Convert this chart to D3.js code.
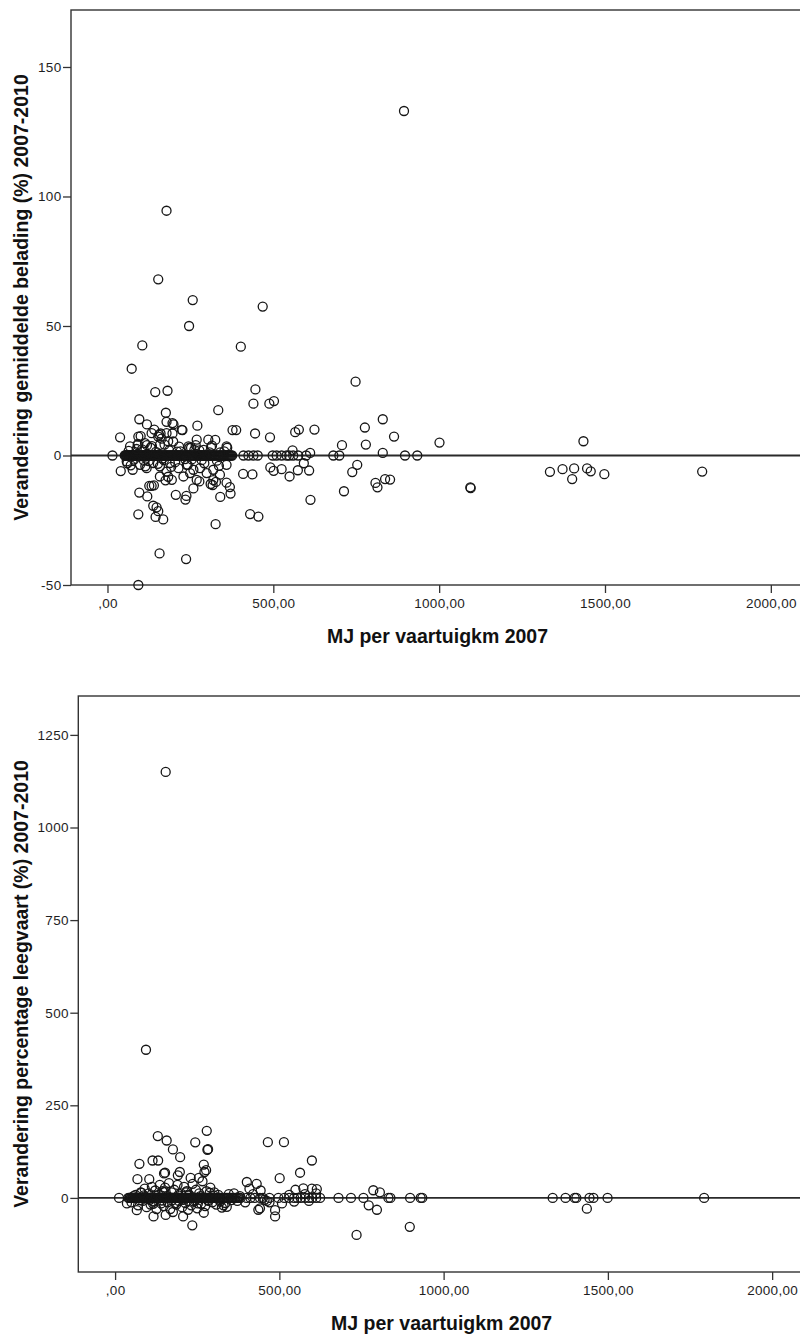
<!DOCTYPE html>
<html>
<head>
<meta charset="utf-8">
<script src="https://cdn.jsdelivr.net/npm/d3@7"></script>
<style>
  html, body { margin: 0; padding: 0; background: #fff; }
  svg { display: block; }
  .tick text { font-family: Arial, "Liberation Sans", sans-serif; font-size: 13.5px; letter-spacing: 0.3px; fill: #1e1e1e; }
  .tick line { stroke: #333; stroke-width: 1.3px; }
  .axis-title { font-family: Arial, "Liberation Sans", sans-serif; font-weight: bold; font-size: 19.5px; fill: #111; }
</style>
</head>
<body>
<svg id="chart" width="800" height="1335"></svg>
<script>
// ---- Shared x-axis ticks (MJ per vaartuigkm 2007) ----
const xTickValues = [0, 500, 1000, 1500, 2000];
const xTickLabels = [",00", "500,00", "1000,00", "1500,00", "2000,00"];

// ---- Panel 1: change in average load (%) 2007-2010 ----
const beladingYTicks = [-50, 0, 50, 100, 150];
// vessels with no change
const beladingZeroMJ = [15, 52, 54, 56, 58, 60, 62, 64, 66, 68, 70, 72, 74, 76, 78, 80, 82, 84, 86, 88, 90, 92, 94,
  96, 98, 100, 102, 104, 106, 108, 110, 112, 114, 116, 118, 120, 122, 124, 126, 128, 130, 132, 134, 136, 138,
  140, 142, 144, 146, 148, 150, 152, 154, 156, 158, 160, 162, 165, 168, 170, 172, 175, 178, 180, 182, 185, 188,
  190, 192, 195, 198, 200, 202, 205, 208, 210, 212, 215, 218, 220, 223, 226, 229, 232, 235, 238, 241, 244, 247,
  250, 253, 256, 259, 262, 266, 270, 272, 274, 276, 278, 280, 282, 284, 286, 288, 290, 293, 295, 298, 300, 303,
  306, 309, 312, 315, 318, 322, 326, 330, 334, 337, 340, 343, 346, 349, 352, 355, 358, 361, 364, 367, 370, 373,
  376, 410, 425, 440, 453, 498, 510, 525, 540, 548, 560, 575, 599, 681, 699, 897, 934];
// vessels with a change in load
const beladingMJ = [894, 178, 153, 257, 468, 246, 105, 402, 73, 748, 144, 181, 446, 440, 488, 502, 334, 176, 96, 830,
  178, 196, 199, 119, 271, 776, 141, 226, 377, 388, 566, 577, 624, 864, 445, 490, 38, 93, 100, 133,
  156, 160, 178, 196, 224, 325, 269, 304, 707, 779, 830, 558, 611, 361, 247, 68, 119, 91, 113, 153,
  158, 198, 244, 359, 1001, 1435, 183, 163, 315, 277, 252, 340,
  40, 60, 76, 96, 120, 138, 126, 133, 140, 93, 153, 145, 168, 157, 237, 93, 326, 206, 235, 238,
  175, 183, 259, 277, 311, 319, 340, 359, 369, 371, 409, 437, 455, 430, 491, 501, 525, 549, 574, 608,
  612, 592, 713, 738, 753, 808, 814, 852, 837, 1094, 1095, 1334, 1372, 1407, 1401, 1446, 1457, 1498, 1793,
  58, 98, 118, 138, 158, 178, 194, 214, 229, 249, 269, 279, 299, 319, 339, 359, 158, 188, 239, 259,
  148, 327, 317, 88, 110, 130, 170, 210, 254, 290,
  64, 80, 104, 124, 146, 166, 186, 204, 220, 234, 262, 284, 308, 330, 352, 70, 92, 114, 134, 152,
  172, 192, 216, 242, 266, 292, 312, 336];
const beladingPct = [133, 94.5, 68, 60, 57.5, 50, 42.5, 42, 33.5, 28.5, 24.5, 25, 25.5, 20, 20, 21, 17.5, 16.5, 14, 14,
  13, 12.5, 12, 12, 11.5, 10.8, 10, 9.8, 9.8, 9.8, 9, 10, 10, 7.3, 8.5, 7, 7, 7.3, 7.5, 8.6,
  8, 8.5, 8.6, 8.5, 9.9, 6, 6.1, 6.1, 4, 4.2, 1, 2, 1, 3, 3, 3.5, 4, 4, 4.8, 7.3,
  4.1, 5.4, 3.5, 3.5, 5, 5.5, 5.5, 6.5, 3.8, 2, 3, 1.2,
  -6, -3, -5.5, -14.3, -15.8, -19.4, -11.7, -11.7, -11.5, -22.7, -21.5, -23.7, -24.7, -37.8, -40, -50, -26.5, -15.2, -17, -15.6,
  -9.6, -8.2, -12.7, -10, -11, -9.5, -16, -10.5, -12.2, -14.7, -7.1, -7.3, -23.6, -22.6, -4.6, -5.9, -5.3, -8.1, -5.7, -5.8,
  -17.1, -3, -13.8, -6.4, -3.6, -10.6, -12.3, -9.3, -9.1, -12.3, -12.6, -6.3, -5.3, -5, -9.1, -5, -6.1, -7.2, -6.2,
  -2.3, -3.6, -4.9, -2.9, -8.1, -6.2, -9.4, -4.9, -8.1, -6.8, -9.4, -4.9, -6.8, -5.5, -7.4, -3.6, -4.2, -2.9, -3.6, -5.5,
  -20, -10.2, -11.4, 2.5, -2, 3, -1.8, 1.5, -1.5, 2.2,
  1.8, -1.6, 2.4, -2.2, 1.4, -1.2, 2, -2.6, 1.6, -1.4, 2.2, -1.8, 1.2, -2, 1.6,
  -3.8, 4.5, -4.2, 3.6, -3.2, 4.2, -4.4, 3.4, -3.6, 4, -3, 3.2, -4];

// ---- Panel 2: change in empty-sailing percentage (%) 2007-2010 ----
const leegvaartYTicks = [0, 250, 500, 750, 1000, 1250];
const leegvaartZeroMJ = [12, 40, 43, 45, 48, 50, 53, 55, 58, 60, 62, 64, 66, 68, 70, 72, 74, 76, 78, 80, 82, 84, 86,
  88, 90, 92, 94, 96, 98, 100, 102, 104, 106, 108, 110, 112, 114, 116, 118, 120, 122, 124, 126, 128, 130, 132,
  134, 136, 138, 140, 142, 144, 146, 148, 150, 152, 154, 156, 158, 160, 162, 164, 166, 168, 170, 172, 174, 176,
  178, 180, 182, 184, 186, 188, 190, 192, 194, 196, 198, 200, 202, 205, 208, 210, 212, 215, 218, 220, 222, 225,
  228, 230, 232, 235, 238, 240, 242, 245, 248, 250, 252, 255, 258, 260, 262, 265, 268, 270, 272, 275, 278, 280,
  283, 286, 289, 292, 295, 298, 301, 304, 307, 310, 314, 318, 322, 326, 330, 334, 338, 342, 346, 350, 354, 358,
  362, 366, 370, 374, 378, 382, 400, 412, 425, 441, 450, 470, 497, 515, 530, 545, 555, 565, 578, 590, 600, 612,
  624, 680, 718, 756, 832, 838, 898, 930, 935, 1332, 1371, 1399, 1404, 1444, 1456, 1499, 1793];
const leegvaartMJ = [154, 94, 279, 130, 157, 244, 465, 514, 176, 281, 283, 198, 114, 131, 599, 74, 270, 563, 272, 152,
  197, 68, 104, 501, 230, 255, 401, 431, 409, 443, 549, 573, 599, 614, 786, 806, 772, 797, 735, 487,
  487, 508, 436, 441, 462, 235, 207, 117, 154, 66, 36, 270, 325, 330, 340, 1436, 897, 149, 191, 277,
  50, 62, 70, 78, 84, 90, 96, 102, 108, 112, 118, 122, 126, 132, 136, 140, 144, 148, 152, 160,
  164, 168, 172, 176, 180, 186, 190, 194, 200, 204, 210, 214, 218, 222, 226, 232, 236, 240, 246, 250,
  256, 262, 266, 274, 278, 284, 290, 296, 302, 308, 314, 320, 336, 346, 354, 362, 372, 380, 396, 420,
  455, 470, 530, 545, 578, 590, 612,
  56, 74, 88, 106, 124, 142, 158, 174, 192, 208, 224, 244, 260, 282, 300, 318, 80, 116, 150, 184,
  216, 252, 288];
const leegvaartPct = [1150, 400, 181, 167, 155, 150, 150.5, 150.5, 131, 130, 131.5, 110, 101, 101, 101, 92, 90, 68, 70, 68,
  70, 50.5, 50.5, 53.3, 54, 54, 43, 38, 25, 20, 22, 26, 25, 24, 20.7, 15, -20, -32, -100, -33,
  -50, -15, -32, -28, -8, -74, -50, -50, -46, -33, -15, -40, -26, -20, -24, -29, -78, 66, 61, 75,
  -12, 8, -20, 15, -8, 25, -25, 12, -18, 30, -10, 20, -30, 8, 35, -15, 18, -22, 28, -12,
  40, -30, 15, -38, 22, -18, 35, -8, 12, -25, 30, -14, 18, -32, 8, -20, 38, -10, 22, -28,
  12, -16, 45, -22, 18, -8, 28, -12, 15, -18, 8, -10, -14, 10, -6, 12, -8, 5, -12, 10,
  -5, -12, 8, -10, 10, -8, 12,
  5, -6, 7, -5, 6, -7, 5, -6, 7, -5, 6, -7, 5, -6, 7, -5, 14, -16, 16, -14,
  15, -15, 14];

const svg = d3.select("#chart");
const plainNumber = d => String(d);

function drawPanel(cfg) {
  const g = svg.append("g");
  const x = d3.scaleLinear().domain(cfg.xDomain).range([cfg.left, cfg.right]);
  const y = d3.scaleLinear().domain(cfg.yDomain).range([cfg.bottom, cfg.top]);

  // plot frame
  g.append("rect")
    .attr("x", cfg.left).attr("y", cfg.top)
    .attr("width", cfg.right - cfg.left).attr("height", cfg.bottom - cfg.top)
    .attr("fill", "none").attr("stroke", "#333").attr("stroke-width", 1.4);

  // reference line at zero change
  g.append("line")
    .attr("x1", cfg.left).attr("x2", cfg.right)
    .attr("y1", y(0)).attr("y2", y(0))
    .attr("stroke", "#2a2a2a").attr("stroke-width", 1.8);

  // y axis
  const yAxis = d3.axisLeft(y).tickValues(cfg.yTicks).tickSize(8).tickPadding(1.5)
    .tickFormat(plainNumber);
  g.append("g").attr("transform", `translate(${cfg.left},0)`).call(yAxis)
    .call(s => s.select(".domain").remove());

  // x axis
  const xAxis = d3.axisBottom(x).tickValues(xTickValues).tickSize(8).tickPadding(5.5)
    .tickFormat((d, i) => xTickLabels[i]);
  g.append("g").attr("transform", `translate(0,${cfg.bottom})`).call(xAxis)
    .call(s => s.select(".domain").remove());

  // points
  const pts = cfg.zeroX.map(v => [v, 0]).concat(cfg.xs.map((v, i) => [v, cfg.ys[i]]));
  g.append("g").selectAll("circle").data(pts).join("circle")
    .attr("cx", d => x(d[0])).attr("cy", d => y(d[1]))
    .attr("r", 4.5)
    .attr("fill", "none").attr("stroke", "#161616").attr("stroke-width", 1.3);

  // axis titles
  g.append("text").attr("class", "axis-title")
    .attr("x", (cfg.left + cfg.right) / 2).attr("y", cfg.bottom + 58)
    .attr("text-anchor", "middle").text("MJ per vaartuigkm 2007");
  g.append("text").attr("class", "axis-title")
    .attr("transform", `translate(28,${(cfg.top + cfg.bottom) / 2}) rotate(-90)`)
    .attr("text-anchor", "middle").text(cfg.yTitle);
}

drawPanel({
  left: 71, right: 804, top: 10, bottom: 585,
  xDomain: [-110, 2100], yDomain: [-50, 172],
  yTicks: beladingYTicks,
  zeroX: beladingZeroMJ, xs: beladingMJ, ys: beladingPct,
  yTitle: "Verandering gemiddelde belading (%) 2007-2010"
});

drawPanel({
  left: 78.3, right: 805, top: 696, bottom: 1272,
  xDomain: [-112, 2100], yDomain: [-200, 1355],
  yTicks: leegvaartYTicks,
  zeroX: leegvaartZeroMJ, xs: leegvaartMJ, ys: leegvaartPct,
  yTitle: "Verandering percentage leegvaart (%) 2007-2010"
});
</script>
</body>
</html>
